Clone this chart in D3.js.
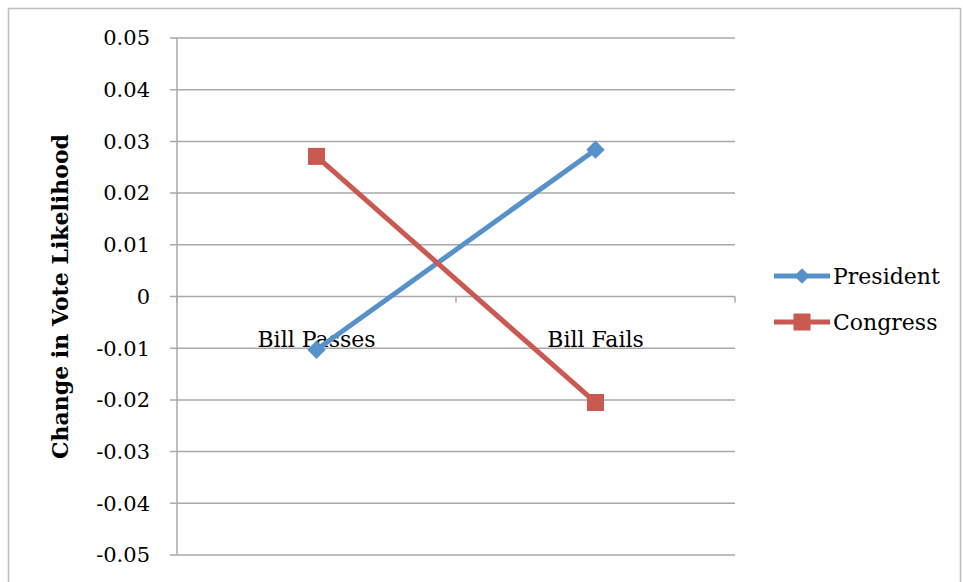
<!DOCTYPE html>
<html>
<head>
<meta charset="utf-8">
<script src="https://cdn.jsdelivr.net/npm/d3@7"></script>
<style>
  body { margin: 0; background: #fff; }
  svg { display: block; }
  text { font-family: "DejaVu Serif", "Liberation Serif", serif; fill: #000; }
</style>
</head>
<body>
<div id="chart"></div>
<script>
'use strict';

var categories = ['Bill Passes', 'Bill Fails'];
var president = [-0.0103, 0.0284];
var congress = [0.0271, -0.0205];
var yTicks = [0.05, 0.04, 0.03, 0.02, 0.01, 0, -0.01, -0.02, -0.03, -0.04, -0.05];
var seriesNames = ['President', 'Congress'];
var seriesColors = ['#5791c9', '#ca5a51'];

var W = 963, H = 582;
var svg = d3.select('#chart').append('svg')
    .attr('width', W)
    .attr('height', H);

// outer frame
svg.append('rect')
    .attr('x', 8.5).attr('y', 8.5)
    .attr('width', 952).attr('height', 590)
    .attr('fill', 'none')
    .attr('stroke', '#bdbdbd')
    .attr('stroke-width', 1.5);

var plotLeft = 177, plotRight = 735, plotTop = 38, plotBottom = 555;

var x = d3.scaleBand().domain(categories).range([plotLeft, plotRight]);
var y = d3.scaleLinear().domain([-0.05, 0.05]).range([plotBottom, plotTop]);

// gridlines
svg.append('g')
    .selectAll('line')
    .data(yTicks)
    .enter()
    .append('line')
    .attr('x1', plotLeft - 7)
    .attr('x2', plotRight)
    .attr('y1', function (d) { return y(d); })
    .attr('y2', function (d) { return y(d); })
    .attr('stroke', '#a9a9a9')
    .attr('stroke-width', 1.5);

// y axis line
svg.append('line')
    .attr('x1', plotLeft).attr('x2', plotLeft)
    .attr('y1', plotTop).attr('y2', plotBottom)
    .attr('stroke', '#a9a9a9')
    .attr('stroke-width', 1.5);

// y tick labels
svg.append('g')
    .selectAll('text')
    .data(yTicks)
    .enter()
    .append('text')
    .attr('x', plotLeft - 27)
    .attr('y', function (d) { return y(d); })
    .attr('dy', '0.35em')
    .attr('text-anchor', 'end')
    .style('font-size', '21px')
    .text(function (d) { return d === 0 ? '0' : d3.format('.2f')(d).replace('\u2212', '-'); });

// category ticks on zero line
var catTicks = [plotLeft, plotLeft + x.bandwidth(), plotRight];
svg.append('g')
    .selectAll('line')
    .data(catTicks)
    .enter()
    .append('line')
    .attr('x1', function (d) { return d; })
    .attr('x2', function (d) { return d; })
    .attr('y1', y(0))
    .attr('y2', y(0) + 6)
    .attr('stroke', '#a9a9a9')
    .attr('stroke-width', 1.5);

// category labels
svg.append('g')
    .selectAll('text')
    .data(categories)
    .enter()
    .append('text')
    .attr('x', function (d) { return x(d) + x.bandwidth() / 2; })
    .attr('y', y(0) + 50)
    .attr('text-anchor', 'middle')
    .style('font-size', '22px')
    .text(function (d) { return d; });

// y axis title
svg.append('text')
    .attr('transform', 'translate(68,' + y(0) + ') rotate(-90)')
    .attr('text-anchor', 'middle')
    .style('font-size', '22px')
    .style('font-weight', 'bold')
    .text('Change in Vote Likelihood');

var line = d3.line()
    .x(function (d, i) { return x(categories[i]) + x.bandwidth() / 2; })
    .y(function (d) { return y(d); });

var allSeries = [president, congress];

allSeries.forEach(function (vals, s) {
    svg.append('path')
        .datum(vals)
        .attr('d', line)
        .attr('fill', 'none')
        .attr('stroke', seriesColors[s])
        .attr('stroke-width', 5);
});

function drawMarker(g, s, cx, cy, size) {
    var r = g.append('rect')
        .attr('x', cx - size / 2).attr('y', cy - size / 2)
        .attr('width', size).attr('height', size)
        .attr('fill', seriesColors[s]);
    if (s === 0) {
        r.attr('transform', 'rotate(45,' + cx + ',' + cy + ')');
    }
}

var markers = svg.append('g');
allSeries.forEach(function (vals, s) {
    vals.forEach(function (v, i) {
        var cx = x(categories[i]) + x.bandwidth() / 2;
        drawMarker(markers, s, cx, y(v), s === 0 ? 13 : 17);
    });
});

// legend
var legend = svg.append('g');
var legendY = [276, 322];
seriesNames.forEach(function (name, s) {
    legend.append('line')
        .attr('x1', 774).attr('x2', 830)
        .attr('y1', legendY[s]).attr('y2', legendY[s])
        .attr('stroke', seriesColors[s])
        .attr('stroke-width', 5);
    drawMarker(legend, s, 802, legendY[s], s === 0 ? 11 : 17);
    legend.append('text')
        .attr('x', 833)
        .attr('y', legendY[s])
        .attr('dy', '0.35em')
        .style('font-size', '22px')
        .text(name);
});
</script>
</body>
</html>
